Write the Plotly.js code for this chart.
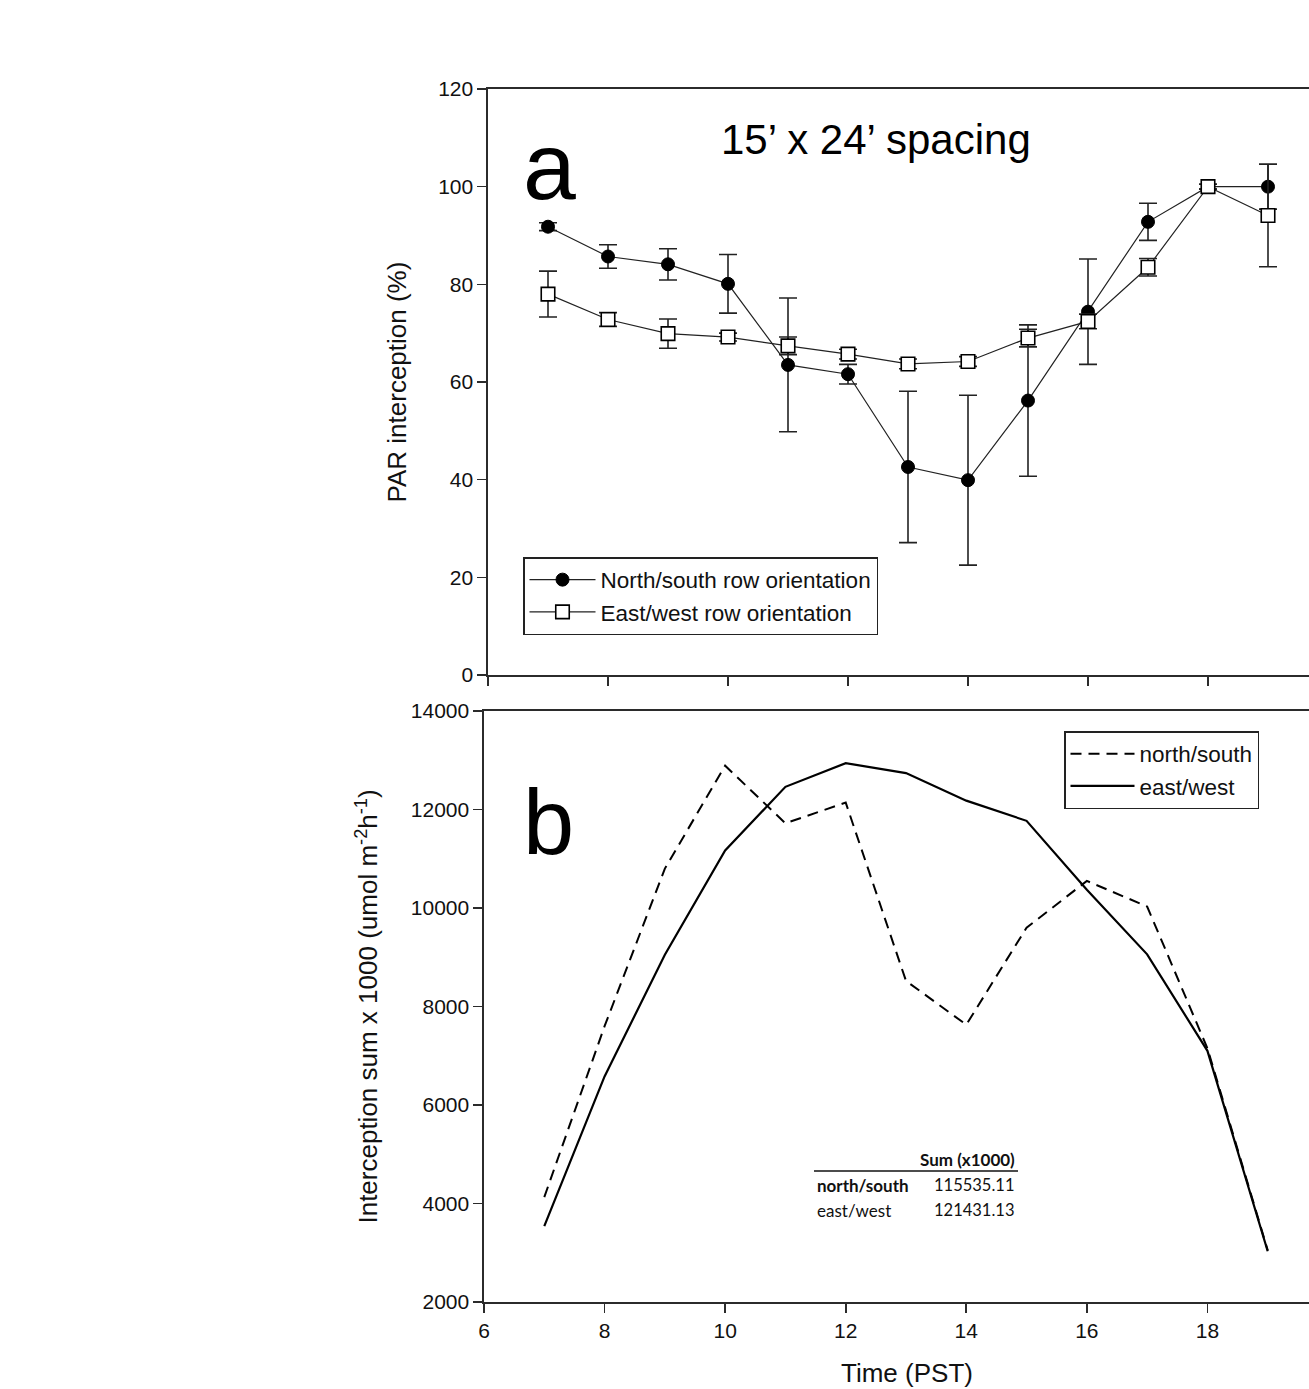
<!DOCTYPE html>
<html>
<head>
<meta charset="utf-8">
<script src="https://cdn.plot.ly/plotly-3.0.1.min.js"></script>
<style>
html, body { margin: 0; padding: 0; overflow: hidden; background: #ffffff; }
#chart { width: 1340px; height: 1389px; }
</style>
</head>
<body>
<div id="chart"></div>
<script>
// ---- Data ----
const hours = [7, 8, 9, 10, 11, 12, 13, 14, 15, 16, 17, 18, 19];

// Panel a: PAR interception (%)
const nsPAR = [91.8, 85.7, 84.1, 80.1, 63.5, 61.6, 42.6, 39.9, 56.2, 74.4, 92.8, 100, 100];
const nsErr = [0.8, 2.4, 3.2, 6.0, 13.7, 2.0, 15.5, 17.4, 15.5, 10.8, 3.8, 0.5, 4.6];
const ewPAR = [78.0, 72.8, 69.9, 69.2, 67.4, 65.7, 63.7, 64.2, 69.0, 72.4, 83.5, 100, 94.1];
const ewErr = [4.7, 1.4, 3.0, 0.8, 1.8, 1.0, 1.0, 1.0, 1.8, 1.5, 1.8, 0.5, 10.5];

// Panel b: Interception sum x 1000
const nsSum = [4130, 7600, 10800, 12890, 11720, 12140, 8520, 7630, 9600, 10550, 10030, 7150, 3050];
const ewSum = [3540, 6580, 9050, 11170, 12460, 12940, 12740, 12180, 11770, 10370, 9060, 7100, 3030];

const legendA = ["North/south row orientation", "East/west row orientation"];
const legendB = ["north/south", "east/west"];
const tableRows = ["north/south", "east/west"];
const tableSums = ["115535.11", "121431.13"];

const parTicks = [0, 20, 40, 60, 80, 100, 120];
const sumTicks = [2000, 4000, 6000, 8000, 10000, 12000, 14000];
const timeTicks = [6, 8, 10, 12, 14, 16, 18];

// ---- Layout helpers (pixel -> paper) ----
const W = 1340, H = 1389;
const px = v => v / W;
const py = v => 1 - v / H;

const FONT = "Liberation Sans, Arial, sans-serif";
const TFONT = "Lato, sans-serif";
const axisLine = "#2b2b2b";

const traces = [
  {
    x: hours, y: nsPAR, xaxis: "x", yaxis: "y",
    type: "scatter", mode: "lines+markers", name: legendA[0], legend: "legend",
    line: { color: "#222222", width: 1.2 },
    marker: { symbol: "circle", size: 13, color: "#000000", line: { color: "#000000", width: 1 } },
    error_y: { type: "data", array: nsErr, visible: true, color: "#222222", thickness: 1.6, width: 9 }
  },
  {
    x: hours, y: ewPAR, xaxis: "x", yaxis: "y",
    type: "scatter", mode: "lines+markers", name: legendA[1], legend: "legend",
    line: { color: "#222222", width: 1.2 },
    marker: { symbol: "square", size: 13.5, color: "#ffffff", line: { color: "#000000", width: 1.6 } },
    error_y: { type: "data", array: ewErr, visible: true, color: "#222222", thickness: 1.6, width: 9 }
  },
  {
    x: hours, y: nsSum, xaxis: "x2", yaxis: "y2",
    type: "scatter", mode: "lines", name: legendB[0], legend: "legend2",
    line: { color: "#000000", width: 2, dash: "11px,7px" }
  },
  {
    x: hours, y: ewSum, xaxis: "x2", yaxis: "y2",
    type: "scatter", mode: "lines", name: legendB[1], legend: "legend2",
    line: { color: "#000000", width: 2.2 }
  }
];

const commonAxis = {
  showline: true, linecolor: axisLine, linewidth: 1.6, mirror: true,
  ticks: "outside", ticklen: 9, tickwidth: 1.6, tickcolor: axisLine,
  showgrid: false, zeroline: false, automargin: false,
  tickfont: { family: FONT, size: 21, color: "#111111" }
};

const layout = {
  width: W, height: H,
  margin: { l: 0, r: 0, t: 0, b: 0 },
  paper_bgcolor: "#ffffff", plot_bgcolor: "#ffffff",
  font: { family: FONT, color: "#111111" },
  xaxis: Object.assign({}, commonAxis, {
    domain: [px(488), px(1328)], range: [6, 20], anchor: "y",
    tickvals: timeTicks.concat([20]), showticklabels: false
  }),
  yaxis: Object.assign({}, commonAxis, {
    domain: [py(675), py(89)], range: [0, 120], anchor: "x",
    tickvals: parTicks, tickformat: "d",
    title: { text: "PAR interception (%)", font: { family: FONT, size: 26, color: "#111111" }, standoff: 24 }
  }),
  xaxis2: Object.assign({}, commonAxis, {
    domain: [px(484), px(1328)], range: [6, 20], anchor: "y2",
    tickvals: timeTicks, tickformat: "d"
  }),
  yaxis2: Object.assign({}, commonAxis, {
    domain: [py(1302), py(711)], range: [2000, 14000], anchor: "x2",
    tickvals: sumTicks, tickformat: "d",
    title: { text: "Interception sum x 1000 (umol m<sup>-2</sup>h<sup>-1</sup>)", font: { family: FONT, size: 26, color: "#111111" }, standoff: 25 }
  }),
  showlegend: true,
  legend: {
    x: px(523), y: py(557), xanchor: "left", yanchor: "top",
    bgcolor: "#ffffff", bordercolor: "#222222", borderwidth: 1.5,
    font: { family: FONT, size: 22.5, color: "#111111" },
    itemwidth: 66, tracegroupgap: 0
  },
  legend2: {
    x: px(1064), y: py(731), xanchor: "left", yanchor: "top",
    bgcolor: "#ffffff", bordercolor: "#222222", borderwidth: 1.5,
    font: { family: FONT, size: 22.5, color: "#111111" },
    itemwidth: 64, tracegroupgap: 0
  },
  annotations: [
    { text: "Time (PST)", xref: "paper", yref: "paper", x: px(907), y: py(1373), xanchor: "center", yanchor: "middle",
      showarrow: false, font: { family: FONT, size: 26, color: "#111111" } },
    { text: "a", xref: "paper", yref: "paper", x: px(521), y: py(166), xanchor: "left", yanchor: "middle",
      showarrow: false, font: { family: FONT, size: 95, color: "#000000" } },
    { text: "b", xref: "paper", yref: "paper", x: px(521), y: py(822), xanchor: "left", yanchor: "middle",
      showarrow: false, font: { family: FONT, size: 92, color: "#000000" } },
    { text: "15’ x 24’ spacing", xref: "paper", yref: "paper", x: px(876), y: py(139), xanchor: "center", yanchor: "middle",
      showarrow: false, font: { family: FONT, size: 42, color: "#000000" } },
    { text: "<b>Sum (x1000)</b>", xref: "paper", yref: "paper", x: px(1017), y: py(1159), xanchor: "right", yanchor: "middle",
      showarrow: false, font: { family: TFONT, size: 17, color: "#111111" } },
    { text: "<b>" + tableRows[0] + "</b>", xref: "paper", yref: "paper", x: px(815), y: py(1185), xanchor: "left", yanchor: "middle",
      showarrow: false, font: { family: TFONT, size: 17, color: "#111111" } },
    { text: tableRows[1], xref: "paper", yref: "paper", x: px(815), y: py(1210), xanchor: "left", yanchor: "middle",
      showarrow: false, font: { family: TFONT, size: 17, color: "#111111" } },
    { text: tableSums[0], xref: "paper", yref: "paper", x: px(1016), y: py(1185), xanchor: "right", yanchor: "middle",
      showarrow: false, font: { family: TFONT, size: 16.5, color: "#111111" } },
    { text: tableSums[1], xref: "paper", yref: "paper", x: px(1016), y: py(1210), xanchor: "right", yanchor: "middle",
      showarrow: false, font: { family: TFONT, size: 16.5, color: "#111111" } }
  ],
  shapes: [
    { type: "line", xref: "paper", yref: "paper", x0: px(814), x1: px(1018), y0: py(1171), y1: py(1171),
      line: { color: "#111111", width: 1.5 } }
  ]
};

Plotly.newPlot("chart", traces, layout, { displayModeBar: false, staticPlot: true });
</script>
</body>
</html>
